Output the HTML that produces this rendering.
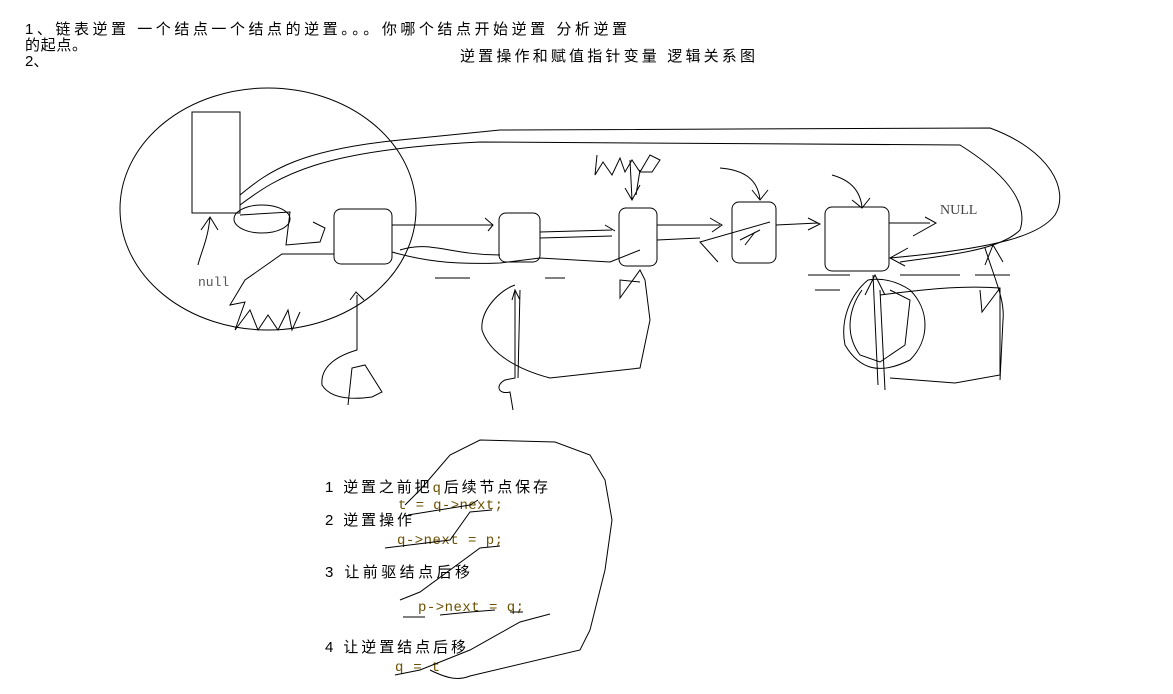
<!DOCTYPE html>
<html><head><meta charset="utf-8"><style>
body{margin:0;background:#fff;width:1173px;height:694px;overflow:hidden}
svg{position:absolute;left:0;top:0}
.t{font-family:"Liberation Sans","Noto Sans CJK SC",sans-serif;font-size:15px;fill:#000}
.m{font-family:"Liberation Mono","Noto Sans CJK SC",monospace;font-size:14px;fill:#6a5000}
</style></head><body>
<svg width="1173" height="694" viewBox="0 0 1173 694" fill="none" stroke="#000" stroke-width="1">
<text class="t" x="25" y="34" stroke="none" textLength="602" lengthAdjust="spacing">1、链表逆置 一个结点一个结点的逆置。。。你哪个结点开始逆置 分析逆置</text>
<text class="t" x="25" y="50" stroke="none" textLength="62" lengthAdjust="spacing">的起点。</text>
<text class="t" x="25" y="66" stroke="none">2、</text>
<text class="t" x="460" y="61" stroke="none" textLength="295" lengthAdjust="spacing">逆置操作和赋值指针变量 逻辑关系图</text>

<ellipse cx="268" cy="209" rx="148" ry="121"/>
<rect x="192" y="112" width="48" height="101"/>
<rect x="334" y="209" width="58" height="55" rx="7"/>
<rect x="499" y="213" width="41" height="49" rx="7"/>
<rect x="619" y="208" width="38" height="58" rx="7"/>
<rect x="732" y="202" width="44" height="61" rx="7"/>
<rect x="825" y="207" width="64" height="64" rx="7"/>
<text x="940" y="214" stroke="none" style="font-family:'Liberation Serif',serif;font-size:14px;fill:#444">NULL</text>
<text x="198" y="286" stroke="none" style="font-family:'Liberation Mono',monospace;font-size:13px;fill:#555">null</text>

<path d="M240 195 C270 170 300 150 400 140 L500 130 L990 128 C1050 150 1070 190 1055 215 C1040 235 1000 248 890 258 M908 248 L890 258 L905 266"/>
<path d="M240 205 C280 175 320 150 480 142 L960 145 C1000 170 1030 200 1020 230 C1000 250 950 255 900 262"/>
<ellipse cx="262" cy="219" rx="28" ry="14"/>
<path d="M240 215 L290 212 L286 245 L320 242 L325 228 L313 222"/>
<path d="M201 230 L210 217 L218 230 M210 217 C208 240 200 255 198 265"/>
<path d="M334 254 L282 254 L245 280 L230 305 L245 302 L235 330 L250 310 L258 330 L268 315 L278 330 L288 310 L292 330 L300 312"/>
<path d="M392 225 L493 225 M485 218 L493 225 L488 231"/>
<path d="M392 252 C420 260 450 265 500 263 L540 258 L610 262 L640 250"/>
<path d="M400 250 C430 240 450 255 500 255"/>
<path d="M540 232 L612 230 M605 225 L615 231 M540 238 L612 236"/>
<path d="M657 225 L720 225 M710 218 L722 225 L712 232 M657 240 L700 238"/>
<path d="M776 225 L818 223 M808 218 L820 224 L808 230"/>
<path d="M889 223 L930 223 M913 236 L936 223 L925 217"/>
<path d="M718 262 L700 242 L770 222"/>
<path d="M740 240 L760 230 M745 245 L755 232"/>
<path d="M597 155 L595 175 L603 162 L612 175 L620 158 L625 172 L632 160 L640 172 L650 155 L660 160 L652 172 L640 172"/>
<path d="M630 160 L632 200 M625 188 L632 200 L640 185 M640 170 L636 195"/>
<path d="M720 168 C745 170 758 180 760 200 M752 190 L760 200 L768 190"/>
<path d="M832 175 C850 180 860 190 862 207 M852 200 L862 208 L870 198"/>
<path d="M357 295 L357 350 C340 355 320 365 322 385 C330 398 350 400 372 397 L382 392 L365 365 L352 368 L348 405 M350 300 L356 292 L364 300"/>
<path d="M515 290 L515 378 L505 380 C495 385 498 395 510 392 L513 410 M520 290 L518 378 M512 300 L515 290 L520 300"/>
<path d="M515 285 C500 290 480 310 482 330 C490 355 520 370 550 378 L640 368 L650 320 L645 280 L640 270 L620 298 L620 280 L640 282"/>
<path d="M868 280 C850 295 840 320 845 345 C860 370 880 375 910 360 C930 340 930 310 910 290 C895 280 880 278 868 280"/>
<path d="M862 290 C848 310 845 335 860 355 L880 362 L905 345 L910 300 L890 290"/>
<path d="M873 275 L878 385 M865 295 L875 275 L885 295 M880 290 L885 390"/>
<path d="M880 295 C920 290 960 285 1000 288 L1000 375 L955 383 L890 378"/>
<path d="M985 248 C995 280 1005 300 1003 320 L1000 380 M985 265 L993 245 L1003 262"/>
<path d="M808 275 L850 275 M900 275 L960 275 M975 275 L1010 275 M815 290 L840 290 M1000 288 L982 312 L980 290"/>
<path d="M435 278 L470 278 M545 278 L565 278"/>

<text class="t" x="325" y="492" stroke="none" textLength="223" lengthAdjust="spacing">1 逆置之前把<tspan class="m">q</tspan>后续节点保存</text>
<text class="m" x="398" y="509" stroke="none" textLength="105" lengthAdjust="spacing">t = q->next;</text>
<text class="t" x="325" y="525" stroke="none" textLength="87" lengthAdjust="spacing">2 逆置操作</text>
<text class="m" x="397" y="544" stroke="none" textLength="106" lengthAdjust="spacing">q->next = p;</text>
<text class="t" x="325" y="577" stroke="none" textLength="145" lengthAdjust="spacing">3 让前驱结点后移</text>
<text class="m" x="418" y="611" stroke="none" textLength="106" lengthAdjust="spacing">p->next = q;</text>
<text class="t" x="325" y="652" stroke="none" textLength="141" lengthAdjust="spacing">4 让逆置结点后移</text>
<text class="m" x="395" y="671" stroke="none" textLength="45" lengthAdjust="spacing">q = t</text>
<path d="M408 515 L470 505 L478 500 M385 548 L450 540 L470 512 L492 510"/>
<path d="M400 600 L420 592 L480 548 L500 546 M403 617 L425 617 M440 615 L470 612 L495 610 M510 612 L523 612"/>
<path d="M395 675 L420 670 L470 650 L520 622 L550 614 M430 670 C450 680 460 680 470 676 L580 650 L590 630 L605 570 L612 520 L605 480 L590 455 L555 442 L480 440 L450 455 L420 490 L405 505"/>
</svg>
</body></html>
